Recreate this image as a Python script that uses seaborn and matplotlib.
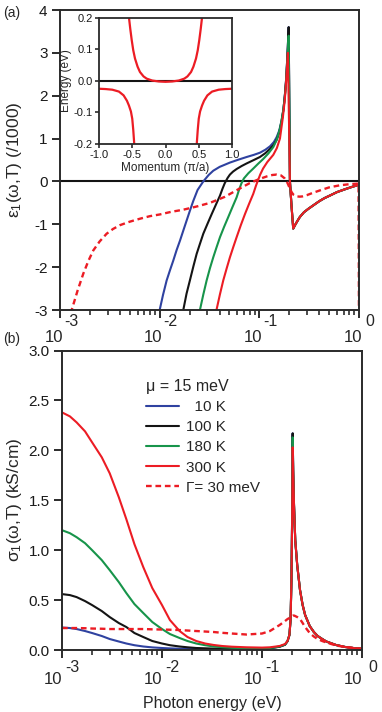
import matplotlib
matplotlib.use('Agg')
import matplotlib.pyplot as plt
import seaborn as sns
from matplotlib.ticker import FixedLocator, LogLocator, NullFormatter, MultipleLocator, FormatStrFormatter

# ---------------- data ----------------
# (a) epsilon_1 (/1000) vs photon energy (eV): rising part of each curve
blue_rise_E = [0.0097, 0.0100, 0.0108, 0.01175, 0.0127, 0.01368, 0.0148, 0.0160, 0.0173, 0.01866, 0.0202, 0.0217, 0.024, 0.0274, 0.031, 0.0345, 0.040, 0.0507, 0.062, 0.0746, 0.088, 0.1014, 0.115, 0.128, 0.140, 0.149, 0.158, 0.1675, 0.175, 0.181, 0.186, 0.190, 0.194, 0.197]
blue_rise_V = [-3.3, -3.0, -2.65, -2.31, -2.07, -1.85, -1.6, -1.38, -1.14, -0.91, -0.67, -0.46, -0.2, 0.0, 0.15, 0.25, 0.34, 0.44, 0.51, 0.57, 0.62, 0.67, 0.74, 0.82, 0.92, 1.03, 1.18, 1.42, 1.7, 2.05, 2.4, 2.8, 3.25, 3.6]
black_rise_E = [0.0168, 0.01726, 0.0186, 0.0201, 0.0218, 0.0235, 0.0254, 0.0274, 0.0303, 0.0333, 0.0367, 0.0403, 0.0427, 0.045, 0.048, 0.0507, 0.0545, 0.0592, 0.0665, 0.0746, 0.088, 0.1014, 0.115, 0.128, 0.140, 0.149, 0.158, 0.1675, 0.175, 0.181, 0.186, 0.190, 0.194, 0.197]
black_rise_V = [-3.3, -3.0, -2.62, -2.31, -1.98, -1.69, -1.45, -1.22, -0.98, -0.76, -0.54, -0.33, -0.17, -0.04, 0.08, 0.16, 0.23, 0.29, 0.36, 0.42, 0.5, 0.57, 0.66, 0.76, 0.86, 0.97, 1.13, 1.40, 1.7, 2.05, 2.4, 2.8, 3.25, 3.6]
green_rise_E = [0.0245, 0.02535, 0.0274, 0.0296, 0.032, 0.0345, 0.0373, 0.0403, 0.0443, 0.0488, 0.0537, 0.0592, 0.0625, 0.066, 0.07, 0.0775, 0.0869, 0.098, 0.109, 0.123, 0.138, 0.150, 0.161, 0.1723, 0.180, 0.1853, 0.190, 0.1945, 0.197]
green_rise_V = [-3.3, -3.0, -2.64, -2.31, -2.02, -1.77, -1.53, -1.30, -1.06, -0.83, -0.6, -0.37, -0.2, -0.05, 0.07, 0.19, 0.30, 0.42, 0.52, 0.65, 0.80, 0.98, 1.23, 1.6, 1.95, 2.3, 2.75, 3.15, 3.4]
red_rise_E = [0.0358, 0.03715, 0.0402, 0.04345, 0.047, 0.0507, 0.0548, 0.0592, 0.0652, 0.0718, 0.079, 0.0869, 0.0925, 0.096, 0.102, 0.109, 0.12, 0.138, 0.150, 0.161, 0.1723, 0.180, 0.1853, 0.190, 0.1935]
red_rise_V = [-3.3, -3.0, -2.64, -2.31, -2.03, -1.77, -1.53, -1.30, -1.02, -0.76, -0.52, -0.29, -0.1, 0.0, 0.16, 0.30, 0.45, 0.62, 0.78, 1.0, 1.5, 1.9, 2.3, 2.7, 3.0]
# common part of the solid curves above the resonance
tail_E = [0.2028, 0.21, 0.2188, 0.228, 0.24, 0.255, 0.28, 0.31, 0.347, 0.4, 0.45, 0.51, 0.6, 0.75, 0.87, 1.0]
tail_V = [0.0, -0.55, -1.10, -1.02, -0.93, -0.83, -0.72, -0.64, -0.56, -0.46, -0.39, -0.33, -0.25, -0.17, -0.12, -0.08]
# Gamma = 30 meV (dashed)
top_dash_E = [0.00125, 0.00131, 0.0015, 0.001714, 0.00193, 0.002158, 0.0025, 0.002937, 0.0034, 0.004, 0.005, 0.00634, 0.008, 0.01007, 0.013, 0.01726, 0.024, 0.032, 0.045, 0.063, 0.08, 0.094, 0.107, 0.12, 0.135, 0.149, 0.165, 0.18, 0.192, 0.2028, 0.212, 0.22, 0.237, 0.255, 0.27, 0.30, 0.35, 0.405, 0.5, 0.643, 0.8, 0.99, 1.0]
top_dash_V = [-3.3, -3.0, -2.55, -2.15, -1.85, -1.61, -1.4, -1.22, -1.11, -1.02, -0.94, -0.87, -0.81, -0.77, -0.71, -0.66, -0.58, -0.50, -0.36, -0.17, -0.04, 0.03, 0.08, 0.12, 0.15, 0.16, 0.14, 0.07, -0.04, -0.17, -0.26, -0.31, -0.35, -0.355, -0.35, -0.32, -0.26, -0.21, -0.14, -0.09, -0.065, -0.05, -3.5]

# (b) sigma_1 (kS/cm) vs photon energy (eV)
bot_E = [0.001, 0.0012, 0.0014, 0.0017, 0.002, 0.0025, 0.003, 0.0037, 0.0044, 0.0053, 0.0065, 0.008, 0.01, 0.012, 0.015, 0.018, 0.022, 0.027, 0.033, 0.04, 0.05, 0.07, 0.1,
         0.12, 0.15, 0.17, 0.18, 0.188, 0.193, 0.197, 0.2, 0.2027, 0.205, 0.209, 0.215, 0.225, 0.24, 0.255, 0.27, 0.3, 0.33, 0.36, 0.4, 0.44, 0.5, 0.55, 0.68, 0.85, 1.0]
bot_blue = [0.225, 0.22, 0.21, 0.19, 0.17, 0.14, 0.11, 0.085, 0.065, 0.048, 0.035, 0.026, 0.02, 0.016, 0.013, 0.011, 0.01, 0.009, 0.008, 0.008, 0.008, 0.009, 0.01,
            0.018, 0.033, 0.053, 0.088, 0.15, 0.3, 0.7, 1.3, 2.17, 1.8, 1.45, 1.1, 0.85, 0.6, 0.45, 0.35, 0.24, 0.18, 0.14, 0.11, 0.085, 0.065, 0.05, 0.03, 0.018, 0.012]
bot_black = [0.56, 0.55, 0.53, 0.49, 0.45, 0.39, 0.33, 0.27, 0.23, 0.17, 0.13, 0.09, 0.065, 0.048, 0.035, 0.027, 0.02, 0.017, 0.014, 0.013, 0.012, 0.012, 0.013,
             0.018, 0.033, 0.053, 0.088, 0.15, 0.3, 0.7, 1.3, 2.17, 1.8, 1.45, 1.1, 0.85, 0.6, 0.45, 0.35, 0.24, 0.18, 0.14, 0.11, 0.085, 0.065, 0.05, 0.03, 0.018, 0.012]
bot_green = [1.2, 1.17, 1.13, 1.07, 1.0, 0.9, 0.8, 0.68, 0.57, 0.46, 0.37, 0.28, 0.21, 0.16, 0.12, 0.09, 0.065, 0.048, 0.035, 0.028, 0.022, 0.018, 0.016,
             0.02, 0.035, 0.055, 0.09, 0.15, 0.3, 0.7, 1.3, 2.13, 1.8, 1.45, 1.1, 0.85, 0.6, 0.45, 0.35, 0.24, 0.18, 0.14, 0.11, 0.085, 0.065, 0.05, 0.03, 0.018, 0.012]
bot_red = [2.38, 2.34, 2.28, 2.19, 2.08, 1.93, 1.77, 1.53, 1.31, 1.06, 0.83, 0.62, 0.45, 0.30, 0.19, 0.13, 0.09, 0.065, 0.05, 0.04, 0.033, 0.027, 0.024,
           0.027, 0.04, 0.06, 0.09, 0.15, 0.3, 0.7, 1.25, 2.03, 1.8, 1.45, 1.1, 0.85, 0.6, 0.45, 0.35, 0.24, 0.18, 0.14, 0.11, 0.085, 0.065, 0.05, 0.03, 0.018, 0.012]
bot_dash = [0.22, 0.22, 0.22, 0.218, 0.215, 0.213, 0.21, 0.21, 0.21, 0.21, 0.21, 0.207, 0.205, 0.203, 0.2, 0.195, 0.19, 0.185, 0.18, 0.172, 0.165, 0.155, 0.165,
            0.19, 0.25, 0.29, 0.31, 0.32, 0.33, 0.335, 0.34, 0.342, 0.345, 0.345, 0.34, 0.33, 0.31, 0.27, 0.23, 0.17, 0.135, 0.11, 0.09, 0.075, 0.058, 0.045, 0.03, 0.018, 0.012]

# inset: band structure (energy in eV vs momentum in pi/a)
up_k = [-0.56, -0.549, -0.53, -0.508, -0.485, -0.459, -0.42, -0.384, -0.33, -0.283, -0.2, -0.1, 0.0, 0.1, 0.2, 0.283, 0.33, 0.384, 0.42, 0.459, 0.485, 0.508, 0.53, 0.549, 0.56]
up_E = [0.23, 0.2, 0.165, 0.129, 0.097, 0.071, 0.045, 0.028, 0.014, 0.007, 0.001, -0.002, -0.003, -0.002, 0.001, 0.007, 0.014, 0.028, 0.045, 0.071, 0.097, 0.129, 0.165, 0.2, 0.23]
lowL_k = [-1.0, -0.9, -0.8, -0.7, -0.63, -0.58, -0.55, -0.52, -0.5, -0.485, -0.47, -0.462]
lowL_E = [-0.025, -0.026, -0.028, -0.034, -0.046, -0.063, -0.078, -0.097, -0.12, -0.155, -0.2, -0.23]
lowR_k = [0.462, 0.47, 0.485, 0.5, 0.52, 0.55, 0.58, 0.63, 0.7, 0.8, 0.9, 1.0]
lowR_E = [-0.23, -0.2, -0.155, -0.12, -0.097, -0.078, -0.063, -0.046, -0.034, -0.028, -0.026, -0.025]

legend_labels = ['  10 K', '100 K', '180 K', '300 K', 'Γ= 30 meV']
legend_title = 'μ = 15 meV'
xtick_vals = [1e-3, 1e-2, 1e-1, 1.0]
xtick_exps = ['-3', '-2', '-1', '0']

# ---------------- style ----------------
sns.set_theme(style='ticks')
plt.rcParams['font.family'] = ['Liberation Sans', 'DejaVu Sans']
plt.rcParams['mathtext.fontset'] = 'custom'
plt.rcParams['mathtext.rm'] = 'Liberation Sans'
plt.rcParams['mathtext.it'] = 'Liberation Sans:italic'
plt.rcParams['axes.unicode_minus'] = False
plt.rcParams['axes.linewidth'] = 1.4
plt.rcParams['axes.edgecolor'] = '#2a2a2a'

C_BLUE, C_BLACK, C_GREEN, C_RED = '#2f42a0', '#141414', '#17944a', '#ec1c24'
LW = 1.5
DASH = (0, (2.4, 1.6))

fig = plt.figure(figsize=(3.82, 7.12), dpi=100)
ax1 = fig.add_axes([60/382, 1-310/712, 299/382, 300/712])
ax2 = fig.add_axes([62/382, 1-650/712, 300/382, 299.5/712])
axin = fig.add_axes([99/382, 1-144/712, 133/382, 126.3/712])

for ax in (ax1, ax2):
    ax.set_xscale('log')
    ax.set_xlim(1e-3, 1.0)

# ----- top panel -----
ax1.axhline(0, color='#141414', lw=1.5, zorder=1)
for E, V, c in [(blue_rise_E + tail_E, blue_rise_V + tail_V, C_BLUE),
                (black_rise_E + tail_E, black_rise_V + tail_V, C_BLACK),
                (green_rise_E + tail_E, green_rise_V + tail_V, C_GREEN),
                (red_rise_E + tail_E, red_rise_V + tail_V, C_RED)]:
    sns.lineplot(x=E, y=V, ax=ax1, color=c, lw=LW, sort=False, estimator=None, legend=False)
sns.lineplot(x=top_dash_E, y=top_dash_V, ax=ax1, color=C_RED, lw=1.7, linestyle=DASH,
             sort=False, estimator=None, legend=False)
ax1.set_ylim(-3, 4)
ax1.yaxis.set_major_locator(MultipleLocator(1))
ax1.set_ylabel('ε$_\\mathregular{1}$(ω,T) (/1000)', fontsize=12.5, labelpad=7)

# ----- bottom panel -----
for V, c, lab in [(bot_blue, C_BLUE, legend_labels[0]), (bot_black, C_BLACK, legend_labels[1]),
                  (bot_green, C_GREEN, legend_labels[2]), (bot_red, C_RED, legend_labels[3])]:
    sns.lineplot(x=bot_E, y=V, ax=ax2, color=c, lw=LW, sort=False, estimator=None, label=lab)
sns.lineplot(x=bot_E, y=bot_dash, ax=ax2, color=C_RED, lw=1.7, linestyle=DASH,
             sort=False, estimator=None, label=legend_labels[4])
ax2.set_ylim(0, 3.0)
ax2.yaxis.set_major_locator(MultipleLocator(0.5))
ax2.yaxis.set_major_formatter(FormatStrFormatter('%.1f'))
ax2.set_ylabel('σ$_\\mathregular{1}$(ω,T) (kS/cm)', fontsize=12.5, labelpad=3)
ax2.set_xlabel('Photon energy (eV)', fontsize=11.5, labelpad=24)
leg = ax2.legend(title=legend_title, loc='upper left', bbox_to_anchor=(0.245, 0.94),
                 frameon=False, fontsize=11, title_fontsize=11.5, handlelength=2.15,
                 labelspacing=0.4, handletextpad=0.45, alignment='left', borderpad=0.2)

# ticks on main panels
for ax, base_off, exp_off in [(ax1, (-4.5, -19.5), (8.0, -8.5)), (ax2, (-6.5, -21.5), (7.5, -12.5))]:
    ax.xaxis.set_major_locator(FixedLocator(xtick_vals))
    ax.xaxis.set_minor_locator(LogLocator(base=10, subs=range(2, 10), numticks=20))
    ax.xaxis.set_major_formatter(NullFormatter())
    ax.xaxis.set_minor_formatter(NullFormatter())
    ax.tick_params(axis='both', which='major', direction='out', length=6, width=1.3,
                   labelsize=11, colors='#1a1a1a', pad=3)
    ax.tick_params(axis='x', which='minor', direction='out', length=3.5, width=1.1, colors='#1a1a1a')
    for side in ('top', 'right'):
        ax.spines[side].set_visible(True)
    for v, e in zip(xtick_vals, xtick_exps):
        ax.annotate('10', xy=(v, 0), xycoords=('data', 'axes fraction'), xytext=base_off,
                    textcoords='offset points', ha='center', va='center', fontsize=12,
                    annotation_clip=False)
        ax.annotate(e, xy=(v, 0), xycoords=('data', 'axes fraction'), xytext=exp_off,
                    textcoords='offset points', ha='center', va='center', fontsize=11.5,
                    annotation_clip=False)

# ----- inset -----
axin.set_facecolor('white')
axin.axhline(0, color='#141414', lw=1.5, zorder=1)
for k, E in [(up_k, up_E), (lowL_k, lowL_E), (lowR_k, lowR_E)]:
    sns.lineplot(x=k, y=E, ax=axin, color=C_RED, lw=1.6, sort=False, estimator=None, legend=False)
axin.set_xlim(-1, 1)
axin.set_ylim(-0.2, 0.2)
axin.xaxis.set_major_locator(MultipleLocator(0.5))
axin.yaxis.set_major_locator(MultipleLocator(0.1))
axin.xaxis.set_major_formatter(FormatStrFormatter('%.1f'))
axin.yaxis.set_major_formatter(FormatStrFormatter('%.1f'))
axin.tick_params(axis='both', which='major', direction='out', length=3, width=1.1,
                 labelsize=8, pad=1.5, colors='#1a1a1a')
for side in ('top', 'right'):
    axin.spines[side].set_visible(True)
for s in axin.spines.values():
    s.set_linewidth(1.3)
axin.set_xlabel('Momentum (π/a)', fontsize=8.5, labelpad=1)
axin.set_ylabel('Energy (eV)', fontsize=8.5, labelpad=1)

fig.text(12/382, 1-13/712, '(a)', fontsize=10, ha='center', va='center')
fig.text(12/382, 1-339/712, '(b)', fontsize=10, ha='center', va='center')

fig.savefig('out.png', dpi=100)
